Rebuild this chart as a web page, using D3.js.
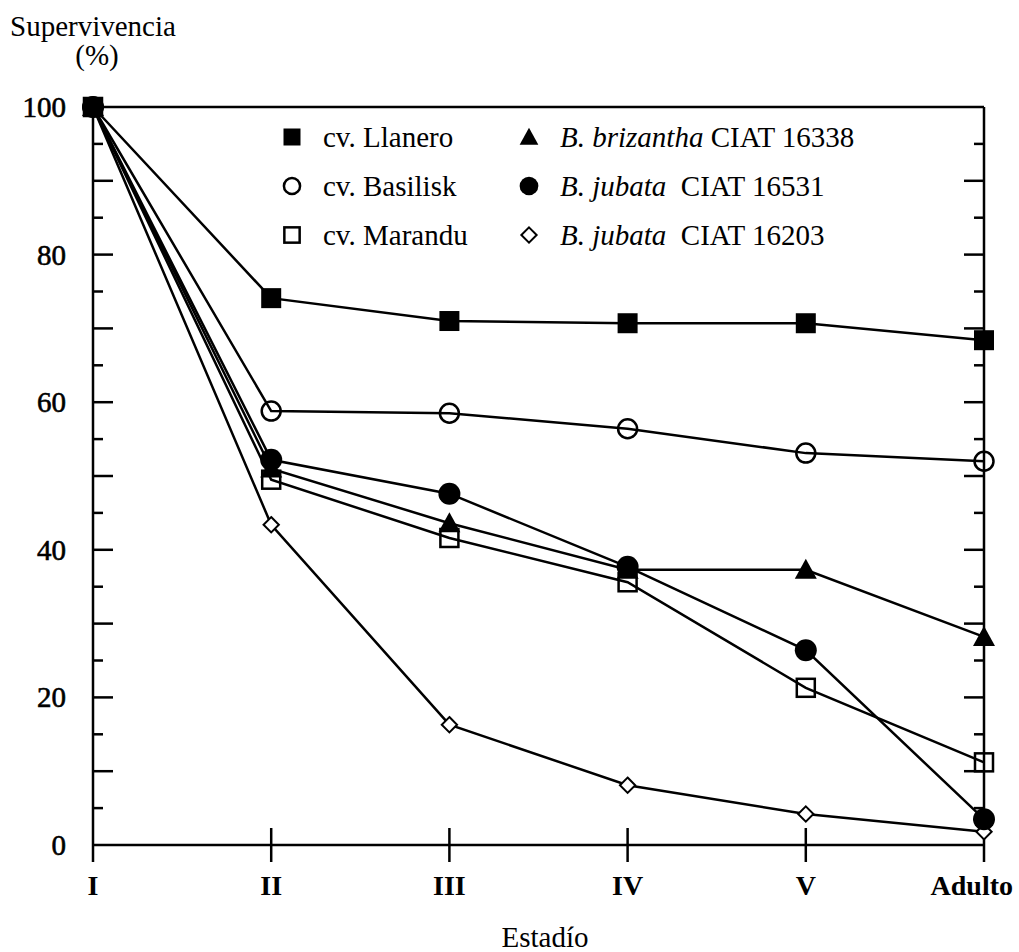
<!DOCTYPE html>
<html>
<head>
<meta charset="utf-8">
<script src="https://cdn.jsdelivr.net/npm/d3@7"></script>
<style>
  body { margin: 0; background: #fff; }
  text { font-family: "Liberation Serif", "DejaVu Serif", serif; fill: #000; }
</style>
</head>
<body>
<script>
var width = 1019, height = 952;

// data
var stages = ["I", "II", "III", "IV", "V", "Adulto"];
var llanero   = [100, 74.1, 71.0, 70.7, 70.7, 68.4];
var basilisk  = [100, 58.8, 58.5, 56.4, 53.1, 52.0];
var marandu   = [100, 49.5, 41.6, 35.6, 21.3, 11.2];
var brizantha = [100, 51.0, 43.6, 37.3, 37.3, 28.2];
var jubata531 = [100, 52.2, 47.6, 37.7, 26.4, 3.5];
var jubata203 = [100, 43.4, 16.3, 8.1, 4.2, 1.8];
var yTickLabels = [0, 20, 40, 60, 80, 100];

var series = [
  { name: "cv. Llanero", values: llanero, sym: "fsquare" },
  { name: "cv. Basilisk", values: basilisk, sym: "ocircle" },
  { name: "cv. Marandu", values: marandu, sym: "osquare" },
  { name: "B. brizantha", rest: " CIAT 16338", values: brizantha, sym: "triangle" },
  { name: "B. jubata", rest: "  CIAT 16531", values: jubata531, sym: "fcircle" },
  { name: "B. jubata", rest: "  CIAT 16203", values: jubata203, sym: "diamond" }
];

var x = d3.scalePoint().domain(stages).range([93, 984]);
var y = d3.scaleLinear().domain([0, 100]).range([845, 107]);

var svg = d3.select("body").append("svg")
    .attr("width", width)
    .attr("height", height);

// frame
svg.append("line").attr("x1", 93).attr("x2", 984).attr("y1", y(100)).attr("y2", y(100))
    .attr("stroke", "#000").attr("stroke-width", 2.5);
svg.append("line").attr("x1", 93).attr("x2", 984).attr("y1", y(0)).attr("y2", y(0))
    .attr("stroke", "#000").attr("stroke-width", 2.5);
svg.append("line").attr("x1", 93).attr("x2", 93).attr("y1", y(100)).attr("y2", 862)
    .attr("stroke", "#000").attr("stroke-width", 2.5);
svg.append("line").attr("x1", 984).attr("x2", 984).attr("y1", y(100)).attr("y2", 862)
    .attr("stroke", "#000").attr("stroke-width", 2.5);

// y ticks, inside on both sides
var yt = d3.range(5, 100, 5);
svg.selectAll(".ltick").data(yt).enter().append("line")
    .attr("x1", 93).attr("x2", function(d) { return d % 10 == 0 ? 113 : 103; })
    .attr("y1", function(d) { return y(d); }).attr("y2", function(d) { return y(d); })
    .attr("stroke", "#000").attr("stroke-width", 2.5);
svg.selectAll(".rtick").data(yt).enter().append("line")
    .attr("x1", 984).attr("x2", function(d) { return d % 10 == 0 ? 964 : 974; })
    .attr("y1", function(d) { return y(d); }).attr("y2", function(d) { return y(d); })
    .attr("stroke", "#000").attr("stroke-width", 2.5);

svg.selectAll(".ylab").data(yTickLabels).enter().append("text")
    .attr("x", 66).attr("y", function(d) { return y(d) + 10; })
    .attr("text-anchor", "end")
    .attr("font-size", 29)
    .attr("stroke", "#000").attr("stroke-width", 0.6)
    .text(function(d) { return d; });

// x ticks crossing the axis
svg.selectAll(".xtick").data(stages.slice(1, 5)).enter().append("line")
    .attr("x1", function(d) { return x(d); }).attr("x2", function(d) { return x(d); })
    .attr("y1", 828).attr("y2", 862)
    .attr("stroke", "#000").attr("stroke-width", 2.5);

svg.selectAll(".xlab").data(stages).enter().append("text")
    .attr("x", function(d) { return d == "Adulto" ? 1013 : x(d); }).attr("y", 895)
    .attr("text-anchor", function(d) { return d == "Adulto" ? "end" : "middle"; })
    .attr("font-size", 28).attr("font-weight", "bold")
    .text(function(d) { return d; });

// axis titles
svg.append("text").attr("x", 10).attr("y", 36).attr("font-size", 29).text("Supervivencia");
svg.append("text").attr("x", 97).attr("y", 65).attr("text-anchor", "middle").attr("font-size", 29).text("(%)");
svg.append("text").attr("x", 545).attr("y", 947).attr("text-anchor", "middle").attr("font-size", 29).text("Estadío");

// lines
var line = d3.line()
    .x(function(d, i) { return x(stages[i]); })
    .y(function(d) { return y(d); });

svg.selectAll(".serie").data(series).enter().append("path")
    .attr("d", function(s) { return line(s.values); })
    .attr("fill", "none").attr("stroke", "#000").attr("stroke-width", 2.5);

function drawSymbol(g, sym, cx, cy, k) {
  k = k || 1;
  if (sym == "fsquare") {
    g.append("rect").attr("x", cx - 10 * k).attr("y", cy - 10 * k)
      .attr("width", 20 * k).attr("height", 20 * k).attr("fill", "#000");
  } else if (sym == "osquare") {
    g.append("rect").attr("x", cx - 9 * k).attr("y", cy - 9 * k)
      .attr("width", 18 * k).attr("height", 18 * k)
      .attr("fill", "none").attr("stroke", "#000").attr("stroke-width", 2.5);
  } else if (sym == "ocircle") {
    g.append("circle").attr("cx", cx).attr("cy", cy).attr("r", 9.5 * k)
      .attr("fill", "none").attr("stroke", "#000").attr("stroke-width", 2.5);
  } else if (sym == "fcircle") {
    g.append("circle").attr("cx", cx).attr("cy", cy).attr("r", 11 * k).attr("fill", "#000");
  } else if (sym == "triangle") {
    g.append("path").attr("d", "M" + cx + "," + (cy - 11 * k) + "L" + (cx + 11 * k) + "," + (cy + 9 * k) +
      "L" + (cx - 11 * k) + "," + (cy + 9 * k) + "Z").attr("fill", "#000");
  } else if (sym == "diamond") {
    g.append("path").attr("d", "M" + cx + "," + (cy - 9 * k) + "L" + (cx + 9 * k) + "," + cy +
      "L" + cx + "," + (cy + 9 * k) + "L" + (cx - 9 * k) + "," + cy + "Z")
      .attr("fill", "#fff").attr("stroke", "#000").attr("stroke-width", 2);
  }
}

// markers: later series first so Llanero ends on top
var marks = svg.append("g");
series.slice().reverse().forEach(function(s) {
  s.values.forEach(function(v, i) {
    drawSymbol(marks, s.sym, x(stages[i]), y(v), s.sym == "diamond" ? 0.85 : 1);
  });
});

// legend
var leg = svg.append("g");
series.forEach(function(s, i) {
  var col = i < 3 ? 0 : 1;
  var row = i % 3;
  var sx = col == 0 ? 292 : 529;
  var sy = 137 + row * 49;
  drawSymbol(leg, s.sym, sx, sy, 0.85);
  var t = leg.append("text").attr("x", sx + 31).attr("y", sy + 10).attr("font-size", 29)
      .attr("xml:space", "preserve");
  if (s.rest) {
    t.append("tspan").attr("font-style", "italic").text(s.name);
    t.append("tspan").text(s.rest);
  } else {
    t.text(s.name);
  }
});
</script>
</body>
</html>
